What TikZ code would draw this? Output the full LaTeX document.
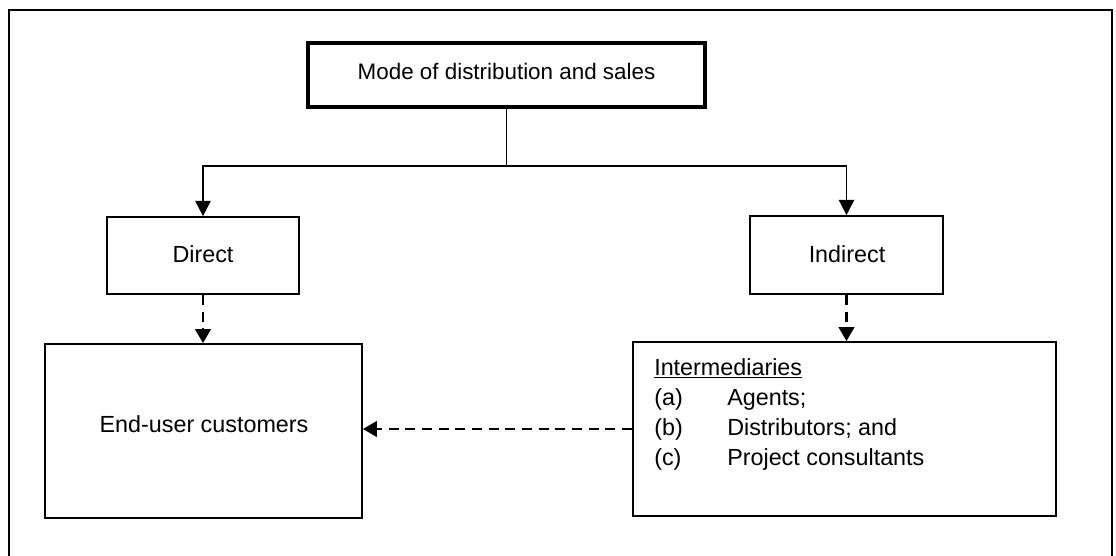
\documentclass[tikz,border=0pt]{standalone}
\usepackage{fontspec}
\setmainfont{Liberation Sans}
\usetikzlibrary{arrows.meta}
\tikzset{
  boxthin/.style={draw, line width=1.3pt, inner sep=0pt, anchor=center},
  boxthick/.style={draw, line width=2.6pt, inner sep=0pt, anchor=center},
  lbl/.style={inner sep=0pt, anchor=base, font=\fontsize{17.5}{21}\selectfont},
  lblw/.style={inner sep=0pt, anchor=base west, font=\fontsize{17.5}{21}\selectfont},
  solidarrow/.style={line width=1.4pt, -{Triangle[length=11.5pt,width=11.5pt]}},
  dasharrow/.style={line width=2.2pt, dash pattern=on 7.5pt off 5pt, -{Triangle[length=10.5pt,width=11.5pt]}},
  frame/.style={line width=1.3pt}
}
\begin{document}
\begin{tikzpicture}[x=0.75pt,y=-0.75pt]
\useasboundingbox (0,0) rectangle (1116,556);
% outer frame (bottom edge is outside the picture)
\draw[frame] (9,556) -- (9,10) -- (1112,10) -- (1112,556);

% boxes
\node[boxthick, minimum width=397*0.75pt, minimum height=64*0.75pt] (top) at (506.5,75) {};
\node[boxthin, minimum width=192*0.75pt, minimum height=77*0.75pt] (dir) at (203,255.5) {};
\node[boxthin, minimum width=193*0.75pt, minimum height=78*0.75pt] (ind) at (846.5,255) {};
\node[boxthin, minimum width=317*0.75pt, minimum height=174*0.75pt] (eu) at (203.5,431) {};
\node[boxthin, minimum width=423*0.75pt, minimum height=174*0.75pt] (im) at (844.5,429) {};

% texts
\node[lbl, font=\fontsize{16.8}{20}\selectfont] (toptxt) at (506.5,80) {Mode of distribution and sales};
\node[lbl] (dirtxt) at (203,262) {Direct};
\node[lbl] (indtxt) at (847,262) {Indirect};
\node[lbl] (eutxt) at (204,432) {End-user customers};
\node[lblw] (imtxt) at (654,375) {\underline{Intermediaries}};
\node[lblw] (ia) at (654,405) {(a)};
\node[lblw] (ib) at (654,435) {(b)};
\node[lblw] (ic) at (654,465) {(c)};
\node[lblw] (ta) at (727,405) {Agents;};
\node[lblw] (tb) at (727,435) {Distributors; and};
\node[lblw] (tc) at (727,465) {Project consultants};

% connectors
\coordinate (j) at (506.5,166);
\draw[line width=1.4pt] (top.south) -- (j);
\draw[solidarrow] (j) -| (dir.north);
\draw[solidarrow] (j) -| (ind.north);
\draw[dasharrow] (dir.south) -- (dir.south |- eu.north);
\draw[dasharrow] (ind.south) -- (ind.south |- im.north);
\draw[dasharrow] (im.west) -- (im.west -| eu.east);
\end{tikzpicture}
\end{document}
